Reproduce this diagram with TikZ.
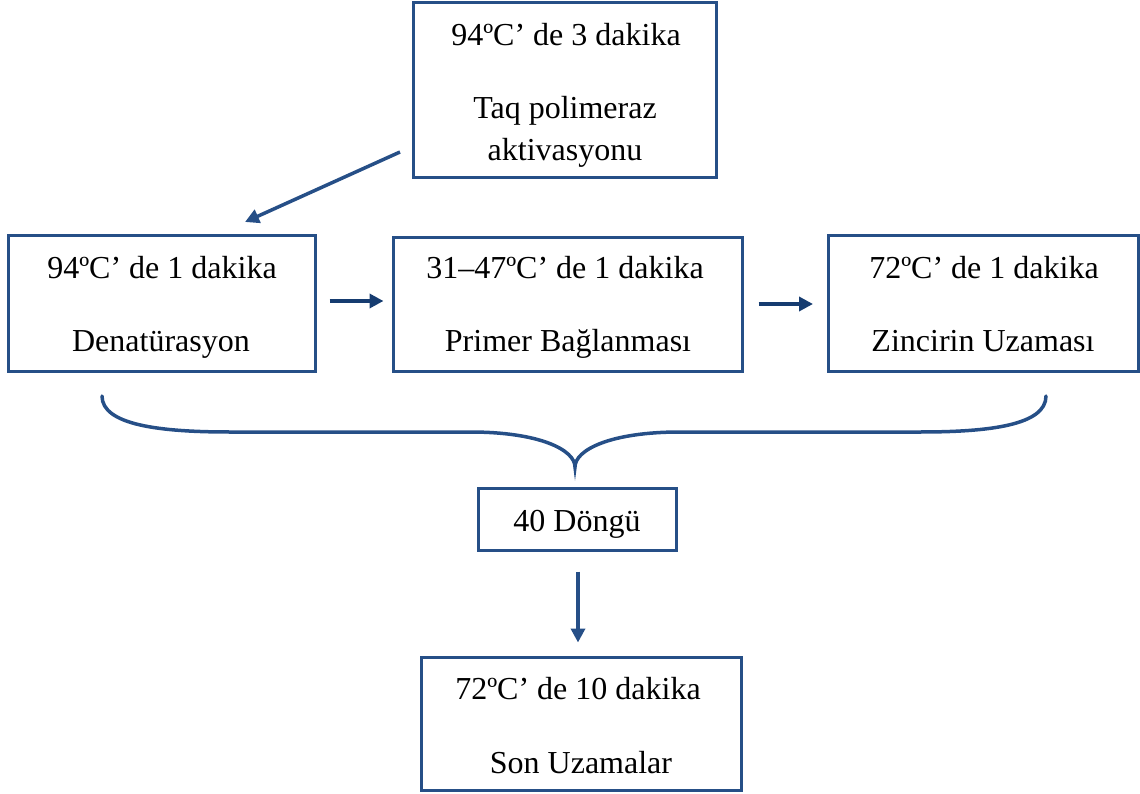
\documentclass[tikz,border=0pt]{standalone}
\usepackage{fontspec}
\setmainfont{Liberation Serif}
\usetikzlibrary{arrows.meta}
\definecolor{boxblue}{RGB}{38,79,135}
\definecolor{arrblue}{RGB}{22,60,112}
\begin{document}
\begin{tikzpicture}[x=1pt,y=-1pt,
  box/.style={draw=boxblue,line width=3pt,rectangle,inner sep=0pt},
  lbl/.style={font=\fontsize{32}{37}\selectfont,inner sep=0pt,anchor=base},
  arr/.style={draw=arrblue,line width=3.5pt,-{Triangle[length=14pt,width=14pt]}}]
\useasboundingbox (0,0) rectangle (1140,794);
% boxes
\node[box,minimum width=303pt,minimum height=175pt] (top) at (564.5,90.5) {};
\node[box,minimum width=307pt,minimum height=135pt] (b1) at (161.5,303.5) {};
\node[box,minimum width=349pt,minimum height=133pt] (b2) at (567.5,304.5) {};
\node[box,minimum width=310pt,minimum height=135pt] (b3) at (983.5,303.5) {};
\node[box,minimum width=198pt,minimum height=62pt] (cyc) at (577,519) {};
\node[box,minimum width=320pt,minimum height=133pt] (fin) at (581,723.5) {};
% texts
\node[lbl] (t1) at (566,46) {94ºC’ de 3 dakika};
\node[lbl] (t2) at (565,119) {Taq polimeraz};
\node[lbl] (t3) at (565,161) {aktivasyonu};
\node[lbl] (a1) at (162,279) {94ºC’ de 1 dakika};
\node[lbl] (a2) at (161,351) {Denatürasyon};
\node[lbl] (c1) at (565,279) {31–47ºC’ de 1 dakika};
\node[lbl] (c2) at (568,351) {Primer Bağlanması};
\node[lbl] (d1) at (984,279) {72ºC’ de 1 dakika};
\node[lbl] (d2) at (983,351) {Zincirin Uzaması};
\node[lbl] (e1) at (577,531) {40 Döngü};
\node[lbl] (f1) at (578,699) {72ºC’ de 10 dakika};
\node[lbl] (f2) at (581,773) {Son Uzamalar};
% connectors
\coordinate (s0) at (400,152);
\coordinate (e0) at (245,222);
\draw[arr,draw=boxblue] (s0) -- (e0);
\draw[arr,shorten <=13pt,shorten >=8pt] (b1.east |- 0,301) -- (b2.west |- 0,301);
\draw[arr,shorten <=15pt,shorten >=14pt] (b2.east |- 0,304) -- (b3.west |- 0,304);
\draw[arr,draw=boxblue,shorten <=20pt,shorten >=13pt] (cyc.south -| 578,0) -- (fin.north -| 578,0);
% brace
\coordinate (bl) at (102,396);
\coordinate (br) at (1046,396);
\coordinate (bt) at (575,467);
\draw[boxblue,line width=3.5pt,line cap=round]
  (bl) .. controls (102,425) and (160,432) .. (230,432)
  -- (470,432) .. controls (540,432) and (575,450) .. (bt)
  .. controls (575,450) and (610,432) .. (680,432)
  -- (920,432) .. controls (990,432) and (1046,425) .. (br);
\end{tikzpicture}
\end{document}
